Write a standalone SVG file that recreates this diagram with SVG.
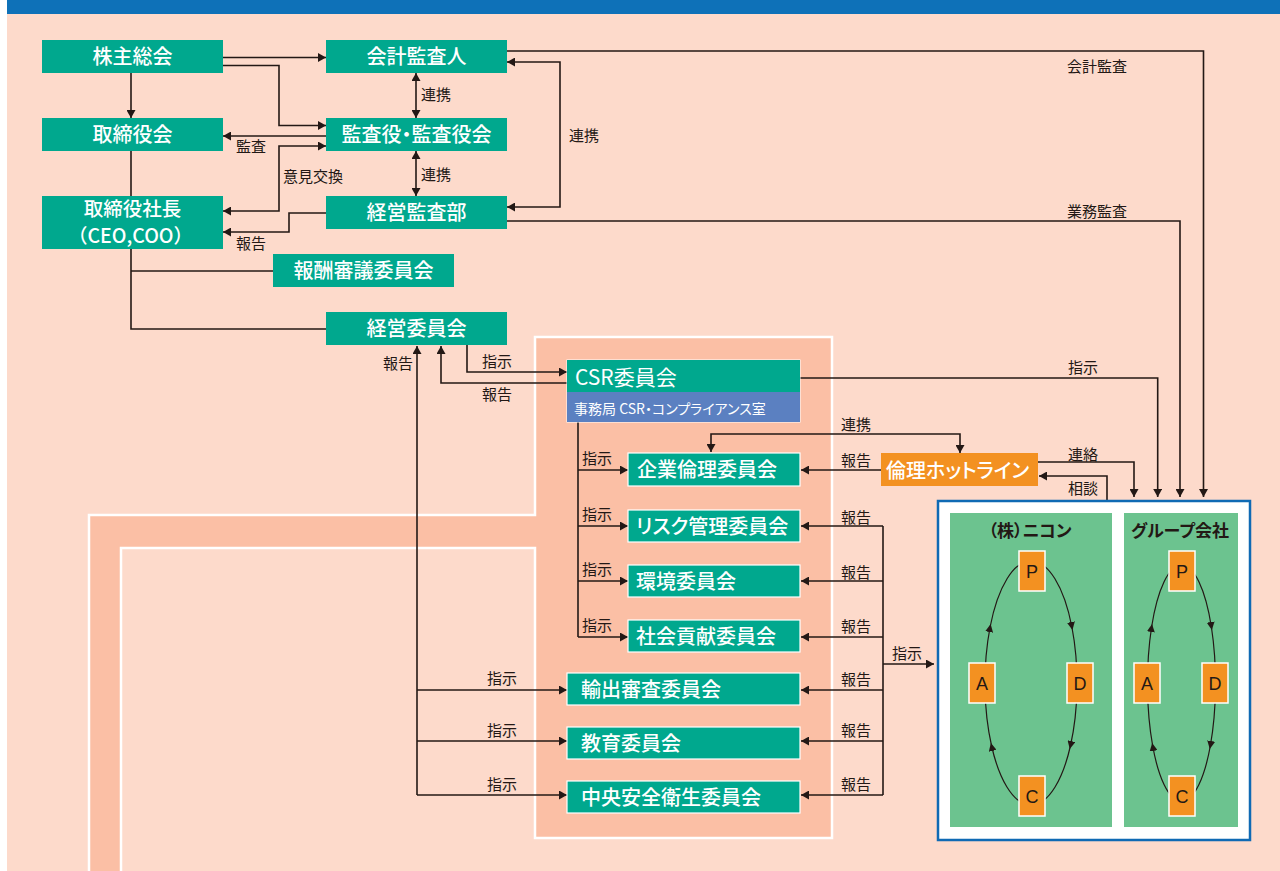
<svg xmlns="http://www.w3.org/2000/svg" width="1280" height="871" viewBox="0 0 1280 871">
<defs>
<marker id="ah" viewBox="0 0 8 9" refX="8" refY="4.5" markerWidth="8" markerHeight="9" markerUnits="userSpaceOnUse" orient="auto-start-reverse"><path d="M0,0 L8,4.5 L0,9 z" fill="#231815"/></marker>
<marker id="ahs" viewBox="0 0 8 8" refX="5" refY="4" markerWidth="8" markerHeight="8" markerUnits="userSpaceOnUse" orient="auto"><path d="M0,0 L8,4 L0,8 z" fill="#231815"/></marker>
<style>
.t{font-family:"Noto Sans CJK JP","Noto Sans",sans-serif;font-feature-settings:"palt";}
.n{fill:#fff;font-size:20px;font-weight:500;}
.nc{text-anchor:middle;}
.lb{fill:#231815;font-size:15px;}
.teal{fill:#00a88e;}
.tealw{fill:#00a88e;stroke:#fff;stroke-width:1.2;}
.ln{fill:none;stroke:#231815;stroke-width:1.6;}
.ar{marker-end:url(#ah);}
.ar2{marker-start:url(#ah);marker-end:url(#ah);}
.arc{fill:none;stroke:#231815;stroke-width:1.2;}
.arcm{marker-end:url(#ahs);}
.pd{fill:#f39121;stroke:#fff;stroke-width:1.5;}
.pl{font-family:"Liberation Sans","Noto Sans",sans-serif;font-size:18px;fill:#231815;text-anchor:middle;}
.gp{fill:#6cc38f;}
.pt{fill:#231815;font-size:17px;font-weight:700;text-anchor:middle;}
</style>
</defs>

<!-- background -->
<rect x="0" y="0" width="1280" height="871" fill="#fff"/>
<rect x="7" y="0" width="1273" height="871" fill="#fddacb"/>
<rect x="7" y="0" width="1273" height="14" fill="#0e71b8"/>
<polygon points="89,876 89,515 535,515 535,337 832,337 832,838 535,838 535,548 121,548 121,876" fill="#fbbfa5" stroke="#fff" stroke-width="2.5"/>

<!-- connectors -->
<g id="connectors" class="ln">
<path class="ar" d="M223,57.5 H326"/>
<path class="ar" d="M223,65.5 H279 V125.5 H326"/>
<path class="ar" d="M131,73 V118"/>
<path class="ar" d="M326,136 H223"/>
<path class="ar2" d="M223,211 H279 V146 H326"/>
<path class="ar" d="M326,213 H289 V232 H223"/>
<path class="ar2" d="M416,73 V118"/>
<path class="ar2" d="M416,151 V196"/>
<path class="ar2" d="M507,62 H560 V207 H507"/>
<path class="ar" d="M507,51 H1203.5 V497"/>
<path class="ar" d="M507,221 H1180 V497"/>
<path d="M131,151 V196"/>
<path d="M131,249 V329 H326"/>
<path d="M131,271 H273"/>
<path class="ar" d="M467,345 V372 H567"/>
<path class="ar" d="M567,383 H441 V346"/>
<path class="ar" d="M417,795 V346"/>
<path class="ar" d="M417,690 H567"/>
<path class="ar" d="M417,741 H567"/>
<path class="ar" d="M417,795 H567"/>
<path d="M578,422 V637"/>
<path class="ar" d="M578,470 H628"/>
<path class="ar" d="M578,526 H628"/>
<path class="ar" d="M578,581 H628"/>
<path class="ar" d="M578,637 H628"/>
<path class="ar2" d="M711,452 V434 H960 V453"/>
<path class="ar" d="M881,470 H801"/>
<path class="ar" d="M1038,462 H1134 V497"/>
<path class="ar" d="M1107,501 V476 H1039"/>
<path class="ar" d="M800,378 H1157.7 V497"/>
<path d="M883,526 V795"/>
<path class="ar" d="M883,526 H801"/>
<path class="ar" d="M883,581 H801"/>
<path class="ar" d="M883,637 H801"/>
<path class="ar" d="M883,690 H801"/>
<path class="ar" d="M883,741 H801"/>
<path class="ar" d="M883,795 H801"/>
<path class="ar" d="M883,664 H934"/>
</g>

<!-- connector labels -->
<g id="labels" class="t lb">
<text x="236" y="152">監査</text>
<text x="283" y="182">意見交換</text>
<text x="236" y="249">報告</text>
<text x="421" y="100">連携</text>
<text x="421" y="180">連携</text>
<text x="569" y="141">連携</text>
<text x="1067" y="72">会計監査</text>
<text x="1067" y="217">業務監査</text>
<text x="1068" y="373">指示</text>
<text x="482" y="367">指示</text>
<text x="482" y="400">報告</text>
<text x="383" y="369">報告</text>
<text x="582" y="464">指示</text>
<text x="582" y="520">指示</text>
<text x="582" y="575">指示</text>
<text x="582" y="631">指示</text>
<text x="487" y="684">指示</text>
<text x="487" y="736">指示</text>
<text x="487" y="790">指示</text>
<text x="841" y="430">連携</text>
<text x="841" y="466">報告</text>
<text x="1068" y="460">連絡</text>
<text x="1068" y="494">相談</text>
<text x="841" y="523">報告</text>
<text x="841" y="578">報告</text>
<text x="841" y="632">報告</text>
<text x="841" y="685">報告</text>
<text x="841" y="736">報告</text>
<text x="841" y="790">報告</text>
<text x="892" y="659">指示</text>
</g>

<!-- nodes -->
<g id="n-kabunushi"><rect class="teal" x="42" y="40" width="181" height="33"/><text class="t n nc" x="132.5" y="64">株主総会</text></g>
<g id="n-kaikeikansanin"><rect class="teal" x="326" y="40" width="181" height="33"/><text class="t n nc" x="416.5" y="64">会計監査人</text></g>
<g id="n-torishimariyakukai"><rect class="teal" x="42" y="118" width="181" height="33"/><text class="t n nc" x="132.5" y="142">取締役会</text></g>
<g id="n-kansayaku"><rect class="teal" x="326" y="118" width="181" height="33"/><text class="t n nc" x="416.5" y="142">監査役・監査役会</text></g>
<g id="n-shacho"><rect class="teal" x="42" y="196" width="181" height="53"/><text class="t n nc" x="132.5" y="215.5" style="font-size:19.5px">取締役社長<tspan x="130.5" dy="27.5" style="font-feature-settings:normal">（CEO,COO）</tspan></text></g>
<g id="n-keieikansabu"><rect class="teal" x="326" y="196" width="181" height="33"/><text class="t n nc" x="416.5" y="220">経営監査部</text></g>
<g id="n-hoshu"><rect class="teal" x="273" y="254" width="181" height="33"/><text class="t n nc" x="363.5" y="278">報酬審議委員会</text></g>
<g id="n-keiei"><rect class="teal" x="326" y="312" width="181" height="33"/><text class="t n nc" x="416.5" y="336">経営委員会</text></g>

<g id="n-csr">
<rect x="566.5" y="359.5" width="234" height="63" fill="#fff"/>
<rect class="teal" x="567" y="360" width="233" height="32"/>
<rect x="567" y="392" width="233" height="30" fill="#5b80c1"/>
<text class="t n" x="575" y="385" style="font-size:21px;font-weight:400">CSR委員会</text>
<text class="t" x="574" y="414" fill="#fff" font-size="14">事務局 CSR・コンプライアンス室</text>
</g>
<g id="n-kigyorinri"><rect class="tealw" x="628" y="453" width="172" height="33"/><text class="t n" x="637" y="477">企業倫理委員会</text></g>
<g id="n-risk"><rect class="tealw" x="628" y="510" width="172" height="32"/><text class="t n" x="636" y="534">リスク管理委員会</text></g>
<g id="n-kankyo"><rect class="tealw" x="628" y="565" width="172" height="32"/><text class="t n" x="636" y="589">環境委員会</text></g>
<g id="n-shakai"><rect class="tealw" x="628" y="620" width="172" height="32"/><text class="t n" x="636" y="644">社会貢献委員会</text></g>
<g id="n-yushutsu"><rect class="tealw" x="567" y="673" width="233" height="32"/><text class="t n" x="581" y="697">輸出審査委員会</text></g>
<g id="n-kyoiku"><rect class="tealw" x="567" y="727" width="233" height="32"/><text class="t n" x="581" y="751">教育委員会</text></g>
<g id="n-anzen"><rect class="tealw" x="567" y="781" width="233" height="32"/><text class="t n" x="581" y="805">中央安全衛生委員会</text></g>

<g id="n-hotline"><rect x="881" y="453" width="157" height="33" fill="#f39121"/><text class="t n" x="886" y="478" style="font-size:20px">倫理ホットライン</text></g>

<!-- PDCA panel -->
<g id="n-pdca">
<rect x="938" y="501" width="312" height="339" fill="#fff" stroke="#0f6ab4" stroke-width="2.5"/>
<rect class="gp" x="950" y="513" width="162" height="314"/>
<rect class="gp" x="1124" y="513" width="114" height="314"/>
<text class="t pt" x="1030" y="537">（株）ニコン</text>
<text class="t pt" x="1180" y="537">グループ会社</text>
<g class="arc">
<path class="arcm" d="M1031,561 A46,122 0 0 1 1071.9,627"/>
<path class="arcm" d="M1071.9,627 A46,122 0 0 1 1070.4,746"/>
<path class="arcm" d="M1070.4,746 A46,122 0 0 1 991.6,746"/>
<path class="arcm" d="M991.6,746 A46,122 0 0 1 990.1,627"/>
<path d="M990.1,627 A46,122 0 0 1 1031,561"/>
<path class="arcm" d="M1181.5,565 A34,118 0 0 1 1211.4,627"/>
<path class="arcm" d="M1211.4,627 A34,118 0 0 1 1210.3,746"/>
<path class="arcm" d="M1210.3,746 A34,118 0 0 1 1152.7,746"/>
<path class="arcm" d="M1152.7,746 A34,118 0 0 1 1151.6,627"/>
<path d="M1151.6,627 A34,118 0 0 1 1181.5,565"/>
</g>
<rect class="pd" x="1019" y="551" width="26" height="40"/><text class="pl" x="1032" y="578">P</text>
<rect class="pd" x="969" y="663" width="26" height="40"/><text class="pl" x="982" y="690">A</text>
<rect class="pd" x="1067" y="663" width="26" height="40"/><text class="pl" x="1080" y="690">D</text>
<rect class="pd" x="1019" y="776" width="26" height="40"/><text class="pl" x="1032" y="803">C</text>
<rect class="pd" x="1169" y="551" width="26" height="40"/><text class="pl" x="1182" y="578">P</text>
<rect class="pd" x="1134" y="663" width="26" height="40"/><text class="pl" x="1147" y="690">A</text>
<rect class="pd" x="1202" y="663" width="26" height="40"/><text class="pl" x="1215" y="690">D</text>
<rect class="pd" x="1169" y="776" width="26" height="40"/><text class="pl" x="1182" y="803">C</text>
</g>
</svg>
